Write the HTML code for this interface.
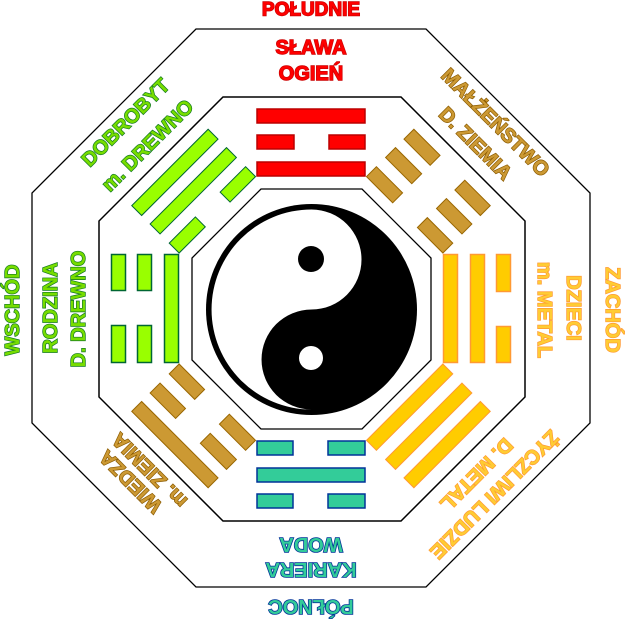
<!DOCTYPE html>
<html><head><meta charset="utf-8"><style>
html,body{margin:0;padding:0;background:#fff;}
svg{display:block;}
text{font-family:"Liberation Sans",sans-serif;font-weight:bold;font-size:20px;text-anchor:middle;dominant-baseline:central;paint-order:stroke;stroke-width:1.4px;}
.r{fill:#ff0000;stroke:#cc0000;}
.br{fill:#cc9933;stroke:#8a5a00;}
.y{fill:#ffcc33;stroke:#ff9933;}
.g{fill:#77dd00;stroke:#117722;}
.b{fill:#33cc99;stroke:#003399;stroke-width:1.6px;}
</style></head><body>
<svg width="627" height="622" viewBox="0 0 627 622" xmlns="http://www.w3.org/2000/svg">
<defs>
<rect id="s1" x="-54" y="-199.5" width="108" height="14"/>
<g id="b1"><rect x="-54" y="-199.5" width="37" height="14"/><rect x="18" y="-199.5" width="36" height="14"/></g>
<rect id="s2" x="-54" y="-173.5" width="108" height="14"/>
<g id="b2"><rect x="-54" y="-173.5" width="37" height="14"/><rect x="18" y="-173.5" width="36" height="14"/></g>
<rect id="s3" x="-54" y="-146.5" width="108" height="14"/>
<g id="b3"><rect x="-54" y="-146.5" width="37" height="14"/><rect x="18" y="-146.5" width="36" height="14"/></g>
</defs>
<polygon points="196,29 426,29 590,193 590,423 426,587 196,587 32,423 32,193" fill="none" stroke="#000" stroke-width="1.3"/>
<polygon points="223,97 401,97 525,221 525,397 401,521 223,521 99,397 99,221" fill="none" stroke="#000" stroke-width="1.5"/>
<polygon points="261,189 362,189 431,258 431,360 362,429 261,429 192,360 192,258" fill="none" stroke="#000" stroke-width="1.3"/>

<g transform="translate(311,308.5)">
 <g fill="#ff0000" stroke="#bb0000" stroke-width="1.5"><use href="#s1"/><use href="#b2"/><use href="#s3"/></g>
 <g transform="rotate(45)" fill="#cc9933" stroke="#996600" stroke-width="1"><use href="#b1"/><use href="#b2"/><use href="#b3"/></g>
 <g transform="rotate(90)" fill="#ffcc00" stroke="#ff9933" stroke-width="1.5"><use href="#b1"/><use href="#s2"/><use href="#s3"/></g>
 <g transform="rotate(135)" fill="#ffcc00" stroke="#ff9933" stroke-width="1"><use href="#s1"/><use href="#s2"/><use href="#s3"/></g>
 <g transform="rotate(180)" fill="#33cc99" stroke="#003399" stroke-width="1.5"><use href="#b1"/><use href="#s2"/><use href="#b3"/></g>
 <g transform="rotate(225)" fill="#cc9933" stroke="#996600" stroke-width="1"><use href="#s1"/><use href="#b2"/><use href="#b3"/></g>
 <g transform="rotate(270)" fill="#99ff00" stroke="#006633" stroke-width="1.5"><use href="#b1"/><use href="#b2"/><use href="#s3"/></g>
 <g transform="rotate(315)" fill="#99ff00" stroke="#006633" stroke-width="1"><use href="#s1"/><use href="#s2"/><use href="#b3"/></g>
</g>

<circle cx="311.5" cy="309.5" r="105.5" fill="#000"/>
<path d="M311.5,209.5 A50,50 0 0 1 311.5,309.5 A50,50 0 0 0 311.5,409.5 A100,100 0 0 1 311.5,209.5 Z" fill="#fff"/>
<circle cx="311" cy="259" r="13" fill="#000"/>
<circle cx="311" cy="358" r="12" fill="#fff"/>

<text class="r" x="311" y="10" style="font-size:19px">POŁUDNIE</text>
<text class="r" x="311" y="48">SŁAWA</text>
<text class="r" x="311" y="74">OGIEŃ</text>

<text class="br" transform="translate(495,123) rotate(45)">MAŁŻEŃSTWO</text>
<text class="br" transform="translate(475,144) rotate(45)">D. ZIEMIA</text>

<text class="y" transform="translate(612,310) rotate(90)">ZACHÓD</text>
<text class="y" transform="translate(573,308) rotate(90)">DZIECI</text>
<text class="y" transform="translate(544,310) rotate(90)">m. METAL</text>

<text class="y" transform="translate(494,494) rotate(135)">ŻYCZLIWI LUDZIE</text>
<text class="y" transform="translate(476,474) rotate(135)">D. METAL</text>

<text class="b" transform="translate(311,606) rotate(180)">PÓŁNOC</text>
<text class="b" transform="translate(311,569) rotate(180)">KARIERA</text>
<text class="b" transform="translate(311,544) rotate(180)">WODA</text>

<text class="br" transform="translate(131,481) rotate(225)">WIEDZA</text>
<text class="br" transform="translate(150,470) rotate(225)">m. ZIEMIA</text>

<text class="g" transform="translate(13,310) rotate(-90)">WSCHÓD</text>
<text class="g" transform="translate(51,308) rotate(-90)">RODZINA</text>
<text class="g" transform="translate(79,309) rotate(-90)">D. DREWNO</text>

<text class="g" transform="translate(126,123) rotate(-45)">DOBROBYT</text>
<text class="g" transform="translate(148,146) rotate(-45)">m. DREWNO</text>
</svg>
</body></html>
